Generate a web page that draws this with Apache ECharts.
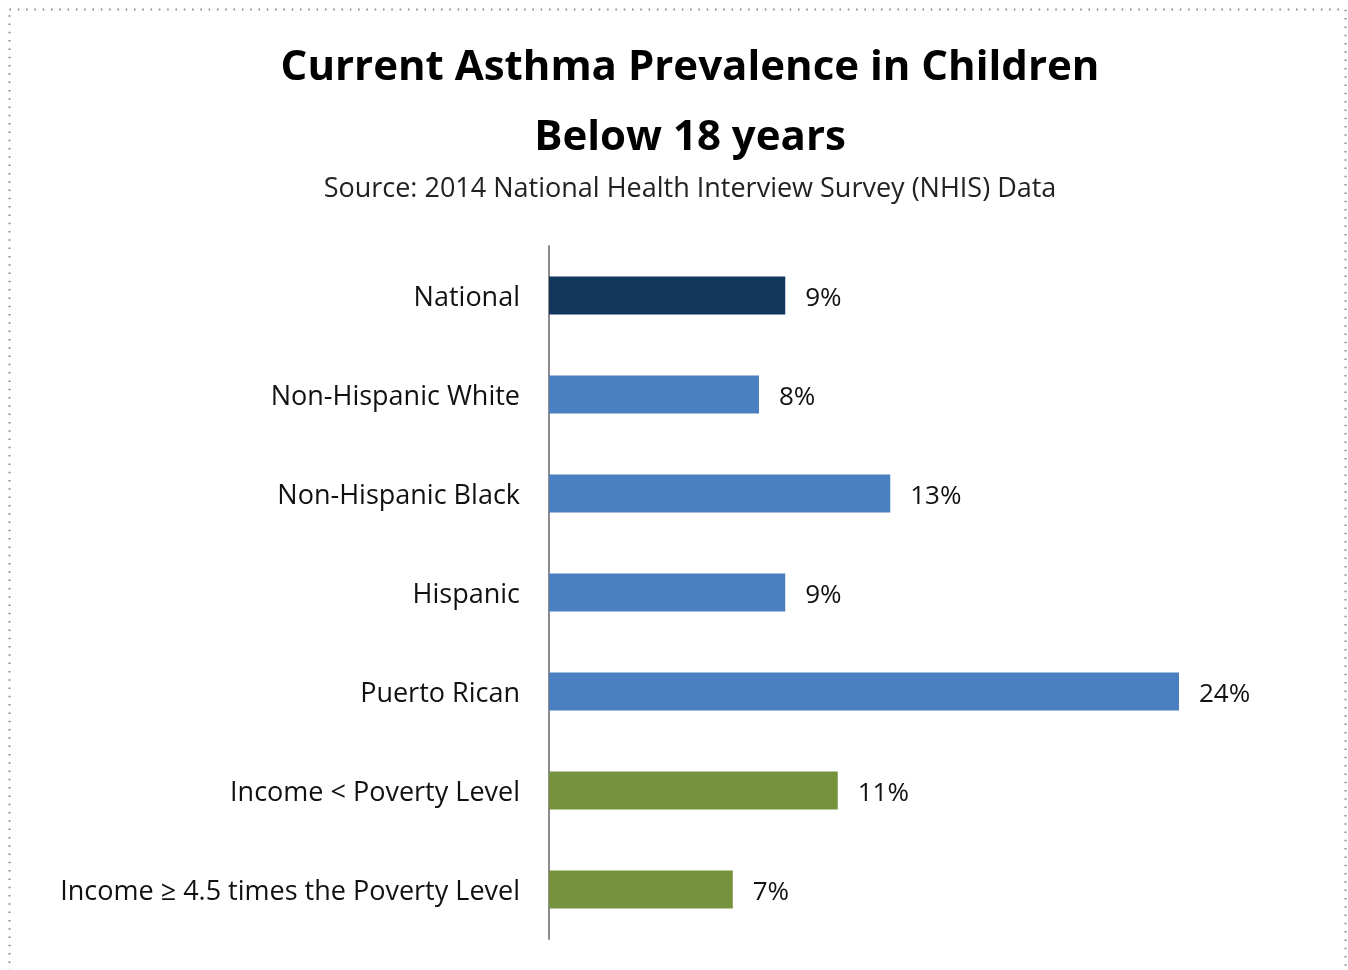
<!DOCTYPE html>
<html>
<head>
<meta charset="utf-8">
<script src="https://cdn.jsdelivr.net/npm/echarts@6/dist/echarts.min.js"></script>
<style>
html,body{margin:0;padding:0;background:#fff;}
#chart{width:1348px;height:970px;}
</style>
</head>
<body>
<div id="chart"></div>
<script>
const categories = ['National','Non-Hispanic White','Non-Hispanic Black','Hispanic','Puerto Rican','Income < Poverty Level','Income \u2265 4.5 times the Poverty Level'];
const values = [9, 8, 13, 9, 24, 11, 7];
const groups = ['national','ethnicity','ethnicity','ethnicity','ethnicity','income','income'];
const titleLines = ['Current Asthma Prevalence in Children','Below 18 years'];
const subtitle = 'Source: 2014 National Health Interview Survey (NHIS) Data';

const groupColors = {national:'#11355B', ethnicity:'#4A7FC0', income:'#76923C'};
const FONT = '"Open Sans", Lato, sans-serif';

const chart = echarts.init(document.getElementById('chart'), null, {renderer:'canvas'});
chart.setOption({
  animation:false,
  backgroundColor:'#fff',
  graphic:[
    {type:'rect', shape:{x:9.5,y:9.5,width:1336,height:975}, style:{fill:null, stroke:'#888', lineWidth:2, lineDash:[1.5,6.8]}, silent:true},
    {type:'text', x:690, y:68, style:{text:titleLines[0], align:'center', verticalAlign:'middle', font:'bold 42px "Open Sans", sans-serif', fill:'#000'}},
    {type:'text', x:690, y:138, style:{text:titleLines[1], align:'center', verticalAlign:'middle', font:'bold 42px "Open Sans", sans-serif', fill:'#000'}},
    {type:'text', x:690, y:189, style:{text:subtitle, align:'center', verticalAlign:'middle', font:'27px "Open Sans", sans-serif', fill:'#222'}}
  ],
  grid:{left:549, top:246, height:693, right:64, containLabel:false},
  xAxis:{type:'value', min:0, max:28, show:false},
  yAxis:{type:'category', data:categories, inverse:true,
    axisLine:{show:true, lineStyle:{color:'#8c8c8c', width:2}},
    axisTick:{show:false},
    axisLabel:{margin:29, formatter:v=>'{a|'+v+'}',
      rich:{a:{fontFamily:FONT, fontSize:27, color:'#111', padding:[5,0,0,0]}}}},
  series:[{type:'bar', barWidth:38,
    data: values.map((v,i)=>({value:v, itemStyle:{color:groupColors[groups[i]]}})),
    label:{show:true, position:'right', distance:20, offset:[0,3], formatter:'{c}%', fontFamily:FONT, fontSize:26, color:'#111'}}]
});
</script>
</body>
</html>
